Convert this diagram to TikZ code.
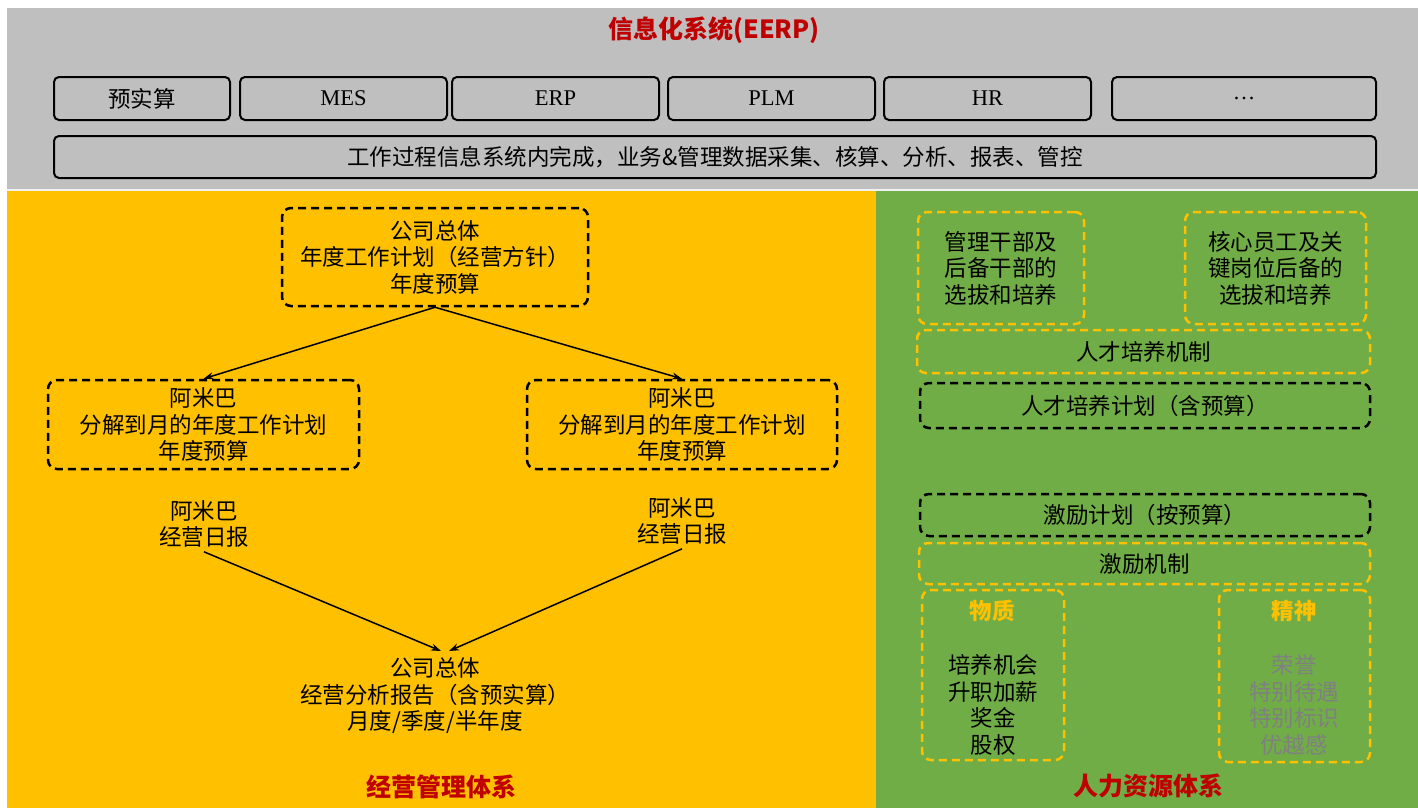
\documentclass[tikz,border=0pt]{standalone}
\usepackage{fontspec}
\setmainfont{Noto Sans CJK SC}
\newfontfamily\latinfont{Liberation Serif}
\usetikzlibrary{arrows.meta}

\definecolor{bandgray}{HTML}{BFBFBF}
\definecolor{mgmtyellow}{HTML}{FFC000}
\definecolor{hrgreen}{HTML}{70AD47}
\definecolor{titlered}{HTML}{C00000}
\definecolor{softgray}{HTML}{808080}

\tikzset{
  txt/.style={align=center, inner sep=0pt, font=\fontsize{22.5}{26.5}\selectfont},
  sysbox/.style={txt, draw, line width=2pt, rounded corners=5pt, minimum height=43pt},
  planbox/.style={txt, draw, dash pattern=on 8pt off 5pt, line width=2.5pt, rounded corners=9pt},
  mechbox/.style={planbox, draw=mgmtyellow},
  heading/.style={inner sep=0pt, text=titlered, font=\fontsize{25}{30}\selectfont\bfseries},
  subhead/.style={inner sep=0pt, text=mgmtyellow, font=\fontsize{22.5}{26.5}\selectfont\bfseries},
}

\begin{document}
\begin{tikzpicture}[x=1pt, y=-1pt, >={Stealth[length=10pt,width=7pt]}]
        \useasboundingbox (0,0) rectangle (1418,808);
        \fill[white] (0,0) rectangle (1418,808);
        \fill[bandgray] (7,8) rectangle (1418,190);
        \fill[mgmtyellow] (7,190) rectangle (876,808);
        \fill[hrgreen] (876,190) rectangle (1418,808);
        \draw[white!80!bandgray, line width=1.5pt] (7,190) -- (1418,190);

        % information systems
        \node[heading] (ittitle) at (714,30) {信息化系统(EERP)};
        \node[sysbox, minimum width=176pt] (budget) at (142,98.5) {预实算};
        \node[sysbox, minimum width=207pt] (mes) at (343.5,98.5) {\latinfont MES};
        \node[sysbox, minimum width=207pt] (erp) at (555.5,98.5) {\latinfont ERP};
        \node[sysbox, minimum width=207pt] (plm) at (771.5,98.5) {\latinfont PLM};
        \node[sysbox, minimum width=207pt] (hr) at (987.5,98.5) {\latinfont HR};
        \node[sysbox, minimum width=264pt] (more) at (1244,98.5) {\latinfont \ldots};
        \node[sysbox, minimum width=1322pt, minimum height=42pt] (process) at (715,157)
          {工作过程信息系统内完成，业务\&管理数据采集、核算、分析、报表、管控};

        % management system
        \node[planbox, minimum width=306pt, minimum height=98pt] (corpplan) at (435,257)
          {公司总体\\年度工作计划（经营方针）\\年度预算};
        \node[planbox, minimum width=311pt, minimum height=89pt] (amibaL) at (203.5,424.5)
          {阿米巴\\分解到月的年度工作计划\\年度预算};
        \node[planbox, minimum width=310pt, minimum height=89pt] (amibaR) at (682,424.5)
          {阿米巴\\分解到月的年度工作计划\\年度预算};
        \node[txt] (dailyL) at (204,524) {阿米巴\\经营日报};
        \node[txt] (dailyR) at (682,521) {阿米巴\\经营日报};
        \node[txt] (report) at (435,696) {公司总体\\经营分析报告（含预实算）\\月度/季度/半年度};
        \coordinate (reportL) at (441,651);
        \coordinate (reportR) at (449,651);
        \node[heading] (mgmttitle) at (441,787) {经营管理体系};
        \draw[line width=1.5pt]
        (corpplan.south) edge[->] (amibaL.north)
        (corpplan.south) edge[->] (amibaR.north)
        ([yshift=-4pt]dailyL.south) edge[->] (reportL)
        ([yshift=-4pt]dailyR.south) edge[->] (reportR)
        ;

        % human resources system
        \node[mechbox, minimum width=166pt, minimum height=112pt] (cadre) at (1001,268)
          {管理干部及\\后备干部的\\选拔和培养};
        \node[mechbox, minimum width=181pt, minimum height=112pt] (core) at (1275.5,268)
          {核心员工及关\\键岗位后备的\\选拔和培养};
        \node[mechbox, minimum width=453pt, minimum height=43pt] (talentmech) at (1143.5,351.5) {人才培养机制};
        \node[planbox, minimum width=450pt, minimum height=45pt] (talentplan) at (1145,405.5) {人才培养计划（含预算）};
        \node[planbox, minimum width=450pt, minimum height=42pt] (incentplan) at (1145,515) {激励计划（按预算）};
        \node[mechbox, minimum width=451pt, minimum height=41pt] (incentmech) at (1144.5,563.5) {激励机制};
        \node[mechbox, minimum width=142pt, minimum height=170pt] (material) at (993,675) {};
        \node[mechbox, minimum width=151pt, minimum height=172pt] (spirit) at (1294.5,676) {};
        \node[subhead] (materialhead) at (992,611) {物质};
        \node[txt] (materialitems) at (993,705) {培养机会\\升职加薪\\奖金\\股权};
        \node[subhead] (spirithead) at (1294,611) {精神};
        \node[txt, text=softgray] (spirititems) at (1294,705) {荣誉\\特别待遇\\特别标识\\优越感};
        \node[heading] (hrtitle) at (1148,786) {人力资源体系};
\end{tikzpicture}
\end{document}
